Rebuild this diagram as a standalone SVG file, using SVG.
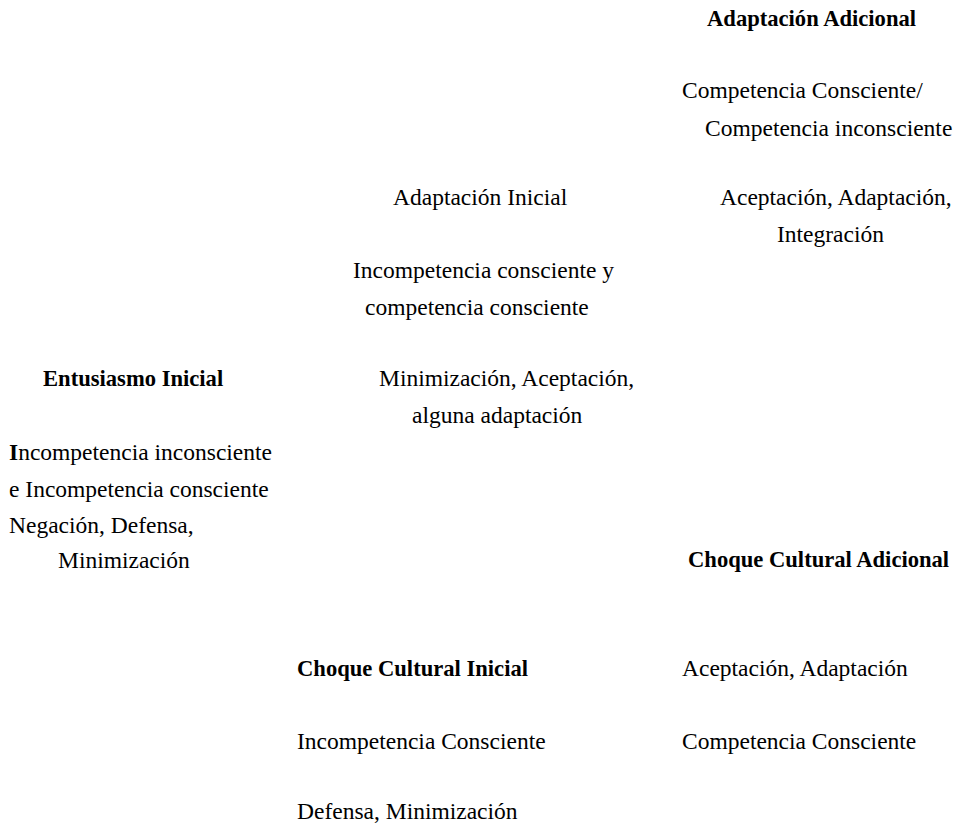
<svg xmlns="http://www.w3.org/2000/svg" width="956" height="825" viewBox="0 0 956 825">
<style>
text{font-family:"Liberation Serif","Times New Roman",serif;font-size:23.5px;fill:#000}
.b{font-weight:bold;font-size:22.6px}
</style>
<rect width="956" height="825" fill="#fff"/>
<g id="adaptacion-adicional">
<text class="b" x="707" y="26">Adaptación Adicional</text>
<text x="682" y="98">Competencia Consciente/</text>
<text x="705" y="136">Competencia inconsciente</text>
<text x="720" y="205">Aceptación, Adaptación,</text>
<text x="777" y="242">Integración</text>
</g>
<g id="adaptacion-inicial">
<text x="393" y="205">Adaptación Inicial</text>
<text x="353" y="278">Incompetencia consciente y</text>
<text x="365" y="315">competencia consciente</text>
<text x="379" y="386">Minimización, Aceptación,</text>
<text x="412" y="423">alguna adaptación</text>
</g>
<g id="entusiasmo-inicial">
<text class="b" x="43" y="386">Entusiasmo Inicial</text>
<text x="9" y="460"><tspan style="font-weight:bold">I</tspan>ncompetencia inconsciente</text>
<text x="9" y="497">e Incompetencia consciente</text>
<text x="9" y="533">Negación, Defensa,</text>
<text x="58" y="568">Minimización</text>
</g>
<g id="choque-cultural-adicional">
<text class="b" x="688" y="567">Choque Cultural Adicional</text>
<text x="682" y="676">Aceptación, Adaptación</text>
<text x="682" y="749">Competencia Consciente</text>
</g>
<g id="choque-cultural-inicial">
<text class="b" x="297" y="676">Choque Cultural Inicial</text>
<text x="297" y="749">Incompetencia Consciente</text>
<text x="297" y="819">Defensa, Minimización</text>
</g>
</svg>
